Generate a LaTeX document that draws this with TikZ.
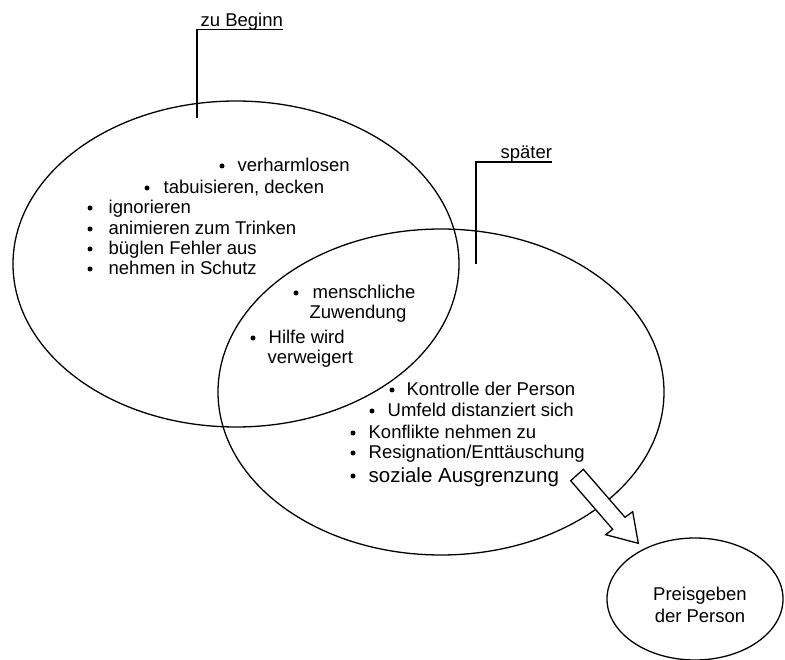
\documentclass[tikz,border=0pt]{standalone}
\usepackage{fontspec}
\setmainfont{Liberation Sans}
\usetikzlibrary{shapes.geometric}
\begin{document}
\begin{tikzpicture}[x=1pt,y=-1pt,line width=1.3pt,
  txt/.style={font=\fontsize{18.5}{22}\selectfont,inner sep=0pt,anchor=base west},
  bigtxt/.style={font=\fontsize{20.5}{24}\selectfont,inner sep=0pt,anchor=base west},
  ctxt/.style={font=\fontsize{18.5}{22}\selectfont,inner sep=0pt,anchor=base},
  ell/.style={draw,ellipse,inner sep=0pt},
  dot/.style={circle,fill,inner sep=0pt,minimum size=5pt}]
\useasboundingbox (0,0) rectangle (785,660);
\clip (0,0) rectangle (785,660);
% ellipses
\node[ell,minimum width=446pt,minimum height=326pt] (early) at (236,264) {};
\node[ell,minimum width=446pt,minimum height=326pt] (late) at (441,392) {};
\node[ell,minimum width=176pt,minimum height=122pt] (end) at (695,599) {};
% label leaders
\node[txt] (lbegin) at (200,26.5) {zu Beginn};
\coordinate (ub1) at (197,29.5);
\coordinate (ub2) at (283,29.5);
\coordinate (ub3) at (197,118);
\draw (ub2) -- (ub1) -- (ub3);
\node[txt] (llate) at (500,158.5) {später};
\coordinate (ul1) at (476,162);
\coordinate (ul2) at (552,162);
\coordinate (ul3) at (476,264);
\draw (ul2) -- (ul1) -- (ul3);
% left items
\node[dot] (d1) at (222,166) {}; \node[txt] (t1) at (237,171.5) {verharmlosen};
\node[dot] (d2) at (147,188) {}; \node[txt] (t2) at (163,193.5) {tabuisieren, decken};
\node[dot] (d3) at (90,208) {};  \node[txt] (t3) at (108,213.5) {ignorieren};
\node[dot] (d4) at (90,229) {};  \node[txt] (t4) at (108,234.5) {animieren zum Trinken};
\node[dot] (d5) at (90,249) {};  \node[txt] (t5) at (108,254.5) {büglen Fehler aus};
\node[dot] (d6) at (90,269) {};  \node[txt] (t6) at (108,274.5) {nehmen in Schutz};
% overlap items
\node[dot] (d7) at (296,293) {}; \node[txt] (t7) at (312,298.5) {menschliche};
\node[txt] (t7b) at (309,318.5) {Zuwendung};
\node[dot] (d8) at (253,338) {}; \node[txt] (t8) at (268,343.5) {Hilfe wird};
\node[txt] (t8b) at (267,363.5) {verweigert};
% later items
\node[dot] (d9) at (392,390) {};  \node[txt] (t9) at (406,395.5) {Kontrolle der Person};
\node[dot] (d10) at (372,411) {}; \node[txt] (t10) at (387,416.5) {Umfeld distanziert sich};
\node[dot] (d11) at (353,433) {}; \node[txt] (t11) at (368,438.5) {Konflikte nehmen zu};
\node[dot] (d12) at (353,453) {}; \node[txt] (t12) at (368,458.5) {Resignation/Enttäuschung};
\node[dot] (d13) at (353,476) {}; \node[bigtxt] (t13) at (368,482) {soziale Ausgrenzung};
% end text
\node[ctxt] (e1) at (700,600) {Preisgeben};
\node[ctxt] (e2) at (700,622) {der Person};
% block arrow
\draw[fill=white,line join=miter] (583.3,469.3) -- (625,517.3) -- (632.7,511.7) -- (638.3,543.3)
  -- (605.7,534.7) -- (612.7,529.3) -- (570.7,480.7) -- cycle;
\end{tikzpicture}
\end{document}
